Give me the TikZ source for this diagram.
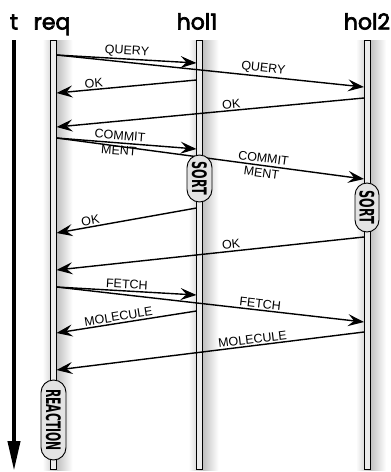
\documentclass[tikz,border=0pt]{standalone}
\usepackage{fontspec}
\setmainfont{Liberation Sans}
\newfontfamily\headfont{Poppins}[FakeBold=3]
\newfontfamily\capfont{DejaVu Sans}
\usetikzlibrary{arrows.meta,shapes.misc}
\begin{document}
\begin{tikzpicture}[x=1pt,y=-1pt,
  msg/.style={line width=1.4pt, -{Stealth[length=16pt,width=12pt,inset=6pt]}},
  lbl/.style={font=\fontsize{12.5}{14}\selectfont, sloped, above, inner sep=1.5pt},
  lbltwo/.style={font=\fontsize{12.5}{15}\selectfont, sloped, align=center, inner sep=0pt},
  head/.style={font=\headfont\fontsize{22}{24}\selectfont, anchor=base, inner sep=0pt},
  bar/.style={draw=black, line width=0.8pt, fill=gray!15},
  capsule/.style={rounded rectangle, draw=black, line width=0.9pt, fill=gray!22, rotate=-90, inner sep=0pt, font=\capfont\bfseries\fontsize{20}{20}\selectfont}
]
\useasboundingbox (0,0) rectangle (391,472);
% shadows
\foreach \c in {53.5,199.5,367}{
  \shade[left color=white, right color=gray!50] (\c-11,40) rectangle (\c+3,470);
  \shade[left color=gray!50, right color=white] (\c+3,40) rectangle (\c+19,470);
}
% bars
\draw[bar] (50.5,40) rectangle (56.5,469);
\draw[bar] (196.5,40) rectangle (202.5,469);
\draw[bar] (364,40) rectangle (370,469);
% headers
\node[head] (ht) at (14,29.5) {t};
\node[head] (hreq) at (52,29.5) {req};
\node[head] (hh1) at (197,29.5) {hol1};
\node[head] (hh2) at (367,29.5) {hol2};
% time arrow
\coordinate (t0) at (14,40);
\coordinate (t1) at (14,471);
\draw[line width=4pt, -{Triangle[length=30pt,width=12pt]}] (t0) -- (t1);
% coordinates
\coordinate (q0) at (56.5,55);
\coordinate (q1) at (196.5,63);
\coordinate (q2) at (364,87);
\coordinate (o1s) at (196.5,80);
\coordinate (o1e) at (56.5,93);
\coordinate (o2s) at (364,98);
\coordinate (o2e) at (56.5,127);
\coordinate (c0) at (56.5,138);
\coordinate (c1) at (196.5,149);
\coordinate (c2) at (364,179);
\coordinate (o3s) at (196.5,208);
\coordinate (o3e) at (56.5,233);
\coordinate (o4s) at (364,237);
\coordinate (o4e) at (56.5,270);
\coordinate (f0) at (56.5,287);
\coordinate (f1) at (196.5,295);
\coordinate (f2) at (364,322);
\coordinate (m1s) at (196.5,311);
\coordinate (m1e) at (56.5,333);
\coordinate (m2s) at (364,332);
\coordinate (m2e) at (56.5,370);
% messages
\draw[msg] (q0) -- node[lbl, pos=0.5] {QUERY} (q1);
\draw[msg] (q0) -- node[lbl, pos=0.67] {QUERY} (q2);
\draw[msg] (o1s) -- node[lbl, pos=0.73] {OK} (o1e);
\draw[msg] (o2s) -- node[lbl, pos=0.43] {OK} (o2e);
\draw[msg] (c0) -- node[lbltwo, pos=0.45] {COMMIT\\MENT} (c1);
\draw[msg] (c0) -- node[lbltwo, pos=0.67] {COMMIT\\MENT} (c2);
\draw[msg] (o3s) -- node[lbl, pos=0.75] {OK} (o3e);
\draw[msg] (o4s) -- node[lbl, pos=0.43] {OK} (o4e);
\draw[msg] (f0) -- node[lbl, pos=0.5] {FETCH} (f1);
\draw[msg] (f0) -- node[lbl, pos=0.66] {FETCH} (f2);
\draw[msg] (m1s) -- node[lbl, pos=0.55] {MOLECULE} (m1e);
\draw[msg] (m2s) -- node[lbl, pos=0.36] {MOLECULE} (m2e);
% capsules
\node[capsule, minimum width=47pt, minimum height=25pt] (sort1) at (199.5,178.5) {\scalebox{0.56}[1]{SORT}};
\node[capsule, minimum width=49pt, minimum height=24pt] (sort2) at (367,207.5) {\scalebox{0.56}[1]{SORT}};
\node[capsule, minimum width=80pt, minimum height=25pt] (react) at (53.5,420) {\scalebox{0.54}[1]{REACTION}};
\end{tikzpicture}
\end{document}
